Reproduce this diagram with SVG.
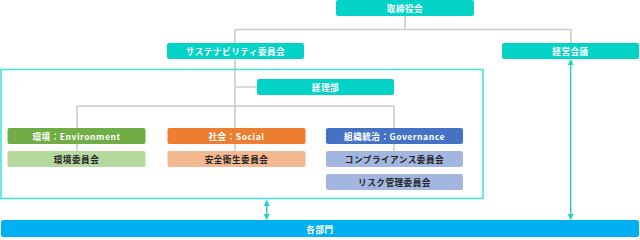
<svg xmlns="http://www.w3.org/2000/svg" width="640" height="240" viewBox="0 0 640 240">
<defs>
<style>
text{font-family:"Noto Sans CJK JP","Noto Sans",sans-serif;font-size:8.6px;font-weight:bold;text-anchor:middle;dominant-baseline:central;letter-spacing:0.5px}
.w{fill:#fff}.d{fill:#222}
.teal{fill:#03d3c7}
.ln{stroke:#cbcbcb;stroke-width:1.6;fill:none}
.ar{stroke:#1ed2c8;stroke-width:1.4;fill:none}
</style>
<marker id="ah" viewBox="0 0 6 6" refX="5" refY="3" markerWidth="6" markerHeight="6" orient="auto-start-reverse" markerUnits="userSpaceOnUse">
<path d="M0,0L6,3L0,6Z" fill="#1ed2c8"/>
</marker>
</defs>
<g id="connectors">
<path class="ln" d="M405,16V29.5M235,29.5H571V43M235,29.5V43"/>
<path class="ln" d="M235,59V151M235,87H257M77,106H394M77,106V151M394,106V151"/>
<line class="ar" x1="266.7" y1="201" x2="266.7" y2="219" marker-start="url(#ah)" marker-end="url(#ah)"/>
<line class="ar" x1="570.7" y1="60" x2="570.7" y2="219" marker-start="url(#ah)" marker-end="url(#ah)"/>
</g>
<rect id="frame" x="1" y="69.5" width="482" height="129" fill="none" stroke="#3ee0d8" stroke-width="1.5"/>
<g id="board"><rect class="teal" x="336" y="0" width="138" height="16" rx="2"/><text class="w" x="405" y="8">取締役会</text></g>
<g id="sustainability"><rect class="teal" x="167" y="43" width="137" height="16" rx="2"/><text class="w" x="235.5" y="51">サステナビリティ委員会</text></g>
<g id="management"><rect class="teal" x="502" y="43" width="137" height="16" rx="2"/><text class="w" x="570.5" y="51">経営会議</text></g>
<g id="accounting"><rect class="teal" x="257" y="79" width="137" height="16" rx="2"/><text class="w" x="325.5" y="87">経理部</text></g>
<g id="env"><rect fill="#70ad47" x="7.5" y="128" width="138" height="16" rx="2"/><text class="w" x="76.5" y="136">環境：Environment</text></g>
<g id="env-c"><rect fill="#b4d89e" x="7.5" y="151" width="138" height="16" rx="2"/><text class="d" x="76.5" y="159">環境委員会</text></g>
<g id="social"><rect fill="#ed7d31" x="167.5" y="128" width="138" height="16" rx="2"/><text class="w" x="236.5" y="136">社会：Social</text></g>
<g id="social-c"><rect fill="#f4b890" x="167.5" y="151" width="138" height="16" rx="2"/><text class="d" x="236.5" y="159">安全衛生委員会</text></g>
<g id="gov"><rect fill="#4472c4" x="326" y="128" width="137" height="16" rx="2"/><text class="w" x="394.5" y="136">組織統治：Governance</text></g>
<g id="gov-c1"><rect fill="#a3b6e0" x="326" y="151" width="137" height="16" rx="2"/><text class="d" x="394.5" y="159">コンプライアンス委員会</text></g>
<g id="gov-c2"><rect fill="#a3b6e0" x="326" y="174" width="137" height="16" rx="2"/><text class="d" x="394.5" y="182">リスク管理委員会</text></g>
<g id="depts"><rect fill="#00b0f0" x="1" y="220" width="638" height="17" rx="2.5"/><text class="w" x="320" y="228.5">各部門</text></g>
</svg>
